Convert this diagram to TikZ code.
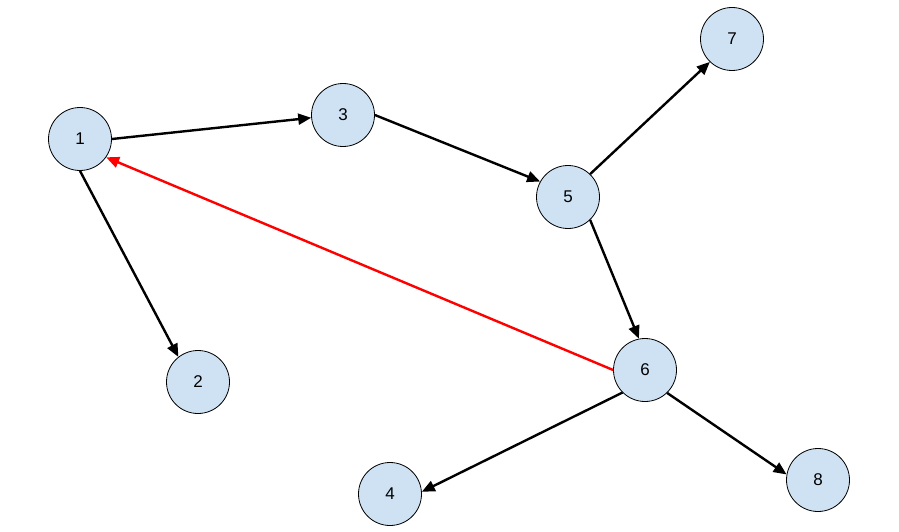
\documentclass[tikz,border=0pt]{standalone}
\usepackage{fontspec}
\setmainfont{Liberation Sans}
\usetikzlibrary{arrows.meta}
\definecolor{nodefill}{HTML}{CFE2F3}
\begin{document}
\begin{tikzpicture}[x=1pt,y=-1pt,
  vnode/.style={circle,draw=black,line width=0.8pt,fill=nodefill,minimum size=63pt,inner sep=0pt,font=\fontsize{17}{20}\selectfont},
  edge/.style={line width=2.4pt,-{Triangle[length=13pt,width=11pt]}},
  backedge/.style={edge,red}]
\path[use as bounding box] (0,0) rectangle (899,532);
\node[vnode] (n1) at (80,139) {1};
\node[vnode] (n3) at (343,115) {3};
\node[vnode] (n5) at (568,197) {5};
\node[vnode] (n7) at (732,39) {7};
\node[vnode] (n2) at (198,382) {2};
\node[vnode] (n6) at (645,370) {6};
\node[vnode] (n4) at (390,494) {4};
\node[vnode] (n8) at (818,480) {8};
\draw[edge] (n1.east) -- (n3.185);
\draw[edge] (n1.south) -- (n2.128);
\draw[edge] (n3.east) -- (n5.151);
\draw[edge] (n5.46) -- (n7.226);
\draw[edge] (n5.314) -- (n6.101);
\draw[edge] (n6.225) -- (n4.4);
\draw[edge] (n6.314) -- (n8.170);
\draw[backedge] (n6.west) -- (n1.325);
\end{tikzpicture}
\end{document}
